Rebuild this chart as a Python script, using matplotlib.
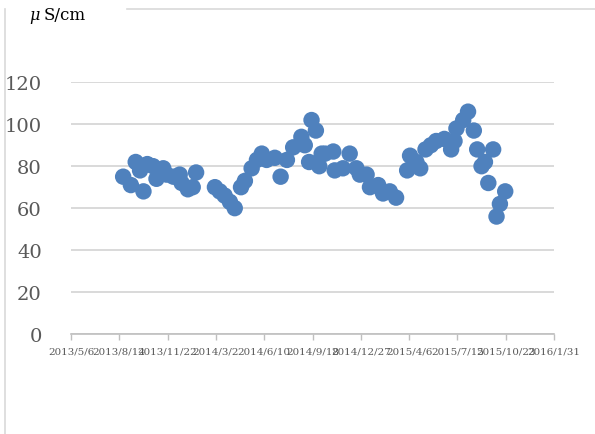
import matplotlib
matplotlib.use("Agg")
import matplotlib.pyplot as plt
import matplotlib.dates as mdates
from matplotlib.lines import Line2D
import numpy as np
import pandas as pd

# Conductivity readings (µS/cm) by sampling date
dates = [
    "2013-08-22", "2013-09-07", "2013-09-17", "2013-09-26", "2013-10-03",
    "2013-10-11", "2013-10-23", "2013-10-30", "2013-11-13", "2013-11-20",
    "2013-12-04", "2013-12-17", "2013-12-21", "2014-01-03", "2014-01-13",
    "2014-01-20",
    "2014-02-28", "2014-03-10", "2014-03-20", "2014-03-31", "2014-04-10",
    "2014-04-23", "2014-05-01", "2014-05-15", "2014-05-26", "2014-06-05",
    "2014-06-15", "2014-07-02", "2014-07-14", "2014-07-27", "2014-08-09",
    "2014-08-26", "2014-09-02", "2014-09-11", "2014-09-16", "2014-09-25",
    "2014-10-02", "2014-10-07", "2014-10-14", "2014-10-31", "2014-11-03",
    "2014-11-20", "2014-12-04", "2014-12-18", "2014-12-25", "2015-01-08",
    "2015-01-15", "2015-02-01", "2015-02-11", "2015-02-25", "2015-03-10",
    "2015-04-02", "2015-04-08", "2015-04-21", "2015-04-29", "2015-05-10",
    "2015-05-21", "2015-06-01", "2015-06-18", "2015-07-02", "2015-07-09",
    "2015-07-13", "2015-07-27", "2015-08-06", "2015-08-18", "2015-08-25",
    "2015-09-03", "2015-09-10", "2015-09-17", "2015-09-27", "2015-10-04",
    "2015-10-11", "2015-10-22",
]
values = [
    75, 71, 82, 78, 68,
    81, 80, 74, 79, 76,
    75, 76, 72, 69, 70,
    77,
    70, 68, 66, 63, 60,
    70, 73, 79, 83, 86,
    83, 84, 75, 83, 89,
    94, 90, 82, 102, 97,
    80, 86, 86, 87, 78,
    79, 86, 79, 76, 76,
    70, 71, 67, 68, 65,
    78, 85, 82, 79, 88,
    90, 92, 93, 88, 92,
    98, 102, 106, 97, 88,
    80, 82, 72, 88, 56,
    62, 68,
]

x_min, x_max = "2013-05-06", "2016-01-31"
tick_dates = [
    "2013-05-06", "2013-08-14", "2013-11-22", "2014-03-02", "2014-06-10",
    "2014-09-18", "2014-12-27", "2015-04-06", "2015-07-15", "2015-10-23",
    "2016-01-31",
]
tick_labels = [
    "2013/5/6", "2013/8/14", "2013/11/22", "2014/3/2", "2014/6/10",
    "2014/9/18", "2014/12/27", "2015/4/6", "2015/7/15", "2015/10/23",
    "2016/1/31",
]
y_ticks = [0, 20, 40, 60, 80, 100, 120]
unit_symbol = "\u03bc"
unit_text = "S/cm"

W, H = 595, 435
fig = plt.figure(figsize=(W / 100, H / 100), dpi=100)
fig.patch.set_facecolor("white")

# plot area in pixel coordinates
left, right, top, bottom = 71, 554, 83.3, 335
ax = fig.add_axes([left / W, 1 - bottom / H, (right - left) / W, (bottom - top) / H])

xd = mdates.date2num(pd.to_datetime(dates))
ax.scatter(xd, values, s=140, color="#4F81BD", edgecolors="none", zorder=3,
           clip_on=False)

ax.set_xlim(mdates.date2num(pd.Timestamp(x_min)), mdates.date2num(pd.Timestamp(x_max)))
ax.set_ylim(0, 120)

ax.set_xticks(mdates.date2num(pd.to_datetime(tick_dates)))
ax.set_xticklabels(tick_labels, fontsize=7.4, color="#595959", family="DejaVu Serif")
ax.set_yticks(y_ticks)
ax.set_yticklabels([str(v) for v in y_ticks], fontsize=14, color="#595959",
                   family="DejaVu Serif")

ax.yaxis.grid(True, color="#D9D9D9", linewidth=1.4, zorder=0)
ax.set_axisbelow(True)
for side in ("top", "right", "left"):
    ax.spines[side].set_visible(False)
ax.spines["bottom"].set_color("#BFBFBF")
ax.spines["bottom"].set_linewidth(1.2)

ax.tick_params(axis="x", direction="out", length=4, width=1.0, color="#BFBFBF", pad=5)
ax.tick_params(axis="y", length=0, pad=21)

# chart frame edges
fig.add_artist(Line2D([127 / W, 1.0], [1 - 10 / H, 1 - 10 / H], transform=fig.transFigure,
                      color="#D9D9D9", linewidth=1.2))
fig.add_artist(Line2D([5 / W, 5 / W], [1 - 10 / H, 0], transform=fig.transFigure,
                      color="#D9D9D9", linewidth=1.2))

# unit label
fig.text(29 / W, 1 - 15 / H, unit_symbol, fontsize=11.5, family="DejaVu Serif",
         style="italic", color="#000000", va="center", ha="left")
fig.text(44 / W, 1 - 15 / H, unit_text, fontsize=12, family="DejaVu Serif",
         color="#000000", va="center", ha="left")

fig.savefig("out.png", dpi=100, facecolor="white")
